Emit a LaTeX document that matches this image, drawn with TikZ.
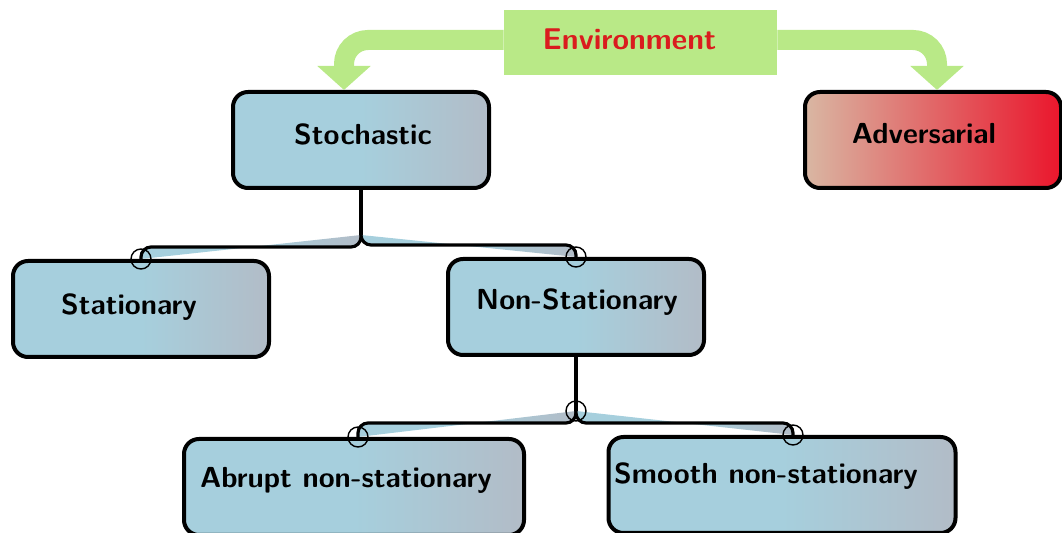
\documentclass[tikz,border=0pt]{standalone}
\usepackage{tikz}
\usetikzlibrary{arrows.meta}
\definecolor{boxblue}{RGB}{166,207,221}
\definecolor{boxgray}{RGB}{178,188,199}
\definecolor{advtan}{RGB}{217,183,163}
\definecolor{advred}{RGB}{234,22,44}
\definecolor{envgreen}{RGB}{185,233,135}
\definecolor{envred}{RGB}{218,28,30}
\pgfdeclarehorizontalshading{bluebox}{100bp}{color(0bp)=(boxblue); color(25bp)=(boxblue); color(50bp)=(boxblue); color(75bp)=(boxgray); color(100bp)=(boxgray)}
\pgfdeclarehorizontalshading{redbox}{100bp}{color(0bp)=(advtan); color(25bp)=(advtan); color(75bp)=(advred); color(100bp)=(advred)}
\tikzset{
    box/.style={draw, line width=2pt, rounded corners=7.5pt, shade, shading=bluebox,
        minimum width=128pt, minimum height=48pt, inner sep=0pt},
    lbl/.style={font=\sffamily\bfseries\fontsize{14.5}{17}\selectfont, text=black},
    trunk/.style={line width=1.6pt},
    branch/.style={line width=1.6pt, rounded corners=5pt, shade, shading=bluebox},
    ring/.style={line width=0.7pt},
    envarrow/.style={draw=envgreen, line width=10pt, rounded corners=12pt,
        -{Triangle[width=26pt,length=12pt]}}}

\begin{document}
\begin{tikzpicture}[x=0.5pt, y=-0.5pt]
    \useasboundingbox (0,0) rectangle (1062,533);

    \node[fill=envgreen, minimum width=136.5pt, minimum height=32.5pt, inner sep=0pt,
        label={[lbl, text=envred, font=\sffamily\bfseries\fontsize{15}{18}\selectfont, xshift=-5.5pt, yshift=1.5pt]center:Environment}] (env) at (640.5,42.5) {};

    \node[box, label={[lbl, xshift=1pt, yshift=3pt]center:Stochastic}] (stoch) at (361,140) {};
    \node[box, shading=redbox, label={[lbl, xshift=-4.5pt, yshift=3pt]center:Adversarial}] (adv) at (933,140) {};
    \node[box, label={[lbl, xshift=-6pt, yshift=1pt]center:Stationary}] (stat) at (141,309) {};
    \node[box, label={[lbl, xshift=0.5pt, yshift=2.5pt]center:Non-Stationary}] (nonstat) at (576,307) {};
    \node[box, minimum width=170pt, label={[lbl, xshift=-4pt, yshift=3.5pt]center:Abrupt non-stationary}] (abrupt) at (354,487) {};
    \node[box, minimum width=173.5pt, label={[lbl, xshift=-8pt, yshift=4.5pt]center:Smooth non-stationary}] (smooth) at (782,485) {};

    \draw[envarrow] ([yshift=1.25pt]env.west) -| ([xshift=-8.5pt]stoch.north);
    \draw[envarrow] ([yshift=1.25pt]env.east) -| ([xshift=2pt]adv.north);

    \coordinate (j1) at ([yshift=-22.5pt]stoch.south);
    \draw[trunk] (stoch.south) -- (j1);
    \draw[branch] (j1) |- ([yshift=6pt]stat.north) -- (stat.north);
    \draw[branch] (j1) |- ([yshift=6pt]nonstat.north) -- (nonstat.north);
    \draw[ring] (stat.north) circle (5pt) (nonstat.north) circle (5pt);

    \coordinate (j2) at ([yshift=-27pt]nonstat.south);
    \draw[trunk] (nonstat.south) -- (j2);
    \draw[branch] (j2) |- ([xshift=2pt, yshift=7pt]abrupt.north) -- ([xshift=2pt]abrupt.north);
    \draw[branch] (j2) |- ([xshift=5.5pt, yshift=6pt]smooth.north) -- ([xshift=5.5pt]smooth.north);
    \draw[ring] (j2) circle (5pt) ([xshift=2pt]abrupt.north) circle (5pt) ([xshift=5.5pt]smooth.north) circle (5pt);

\end{tikzpicture}
\end{document}
